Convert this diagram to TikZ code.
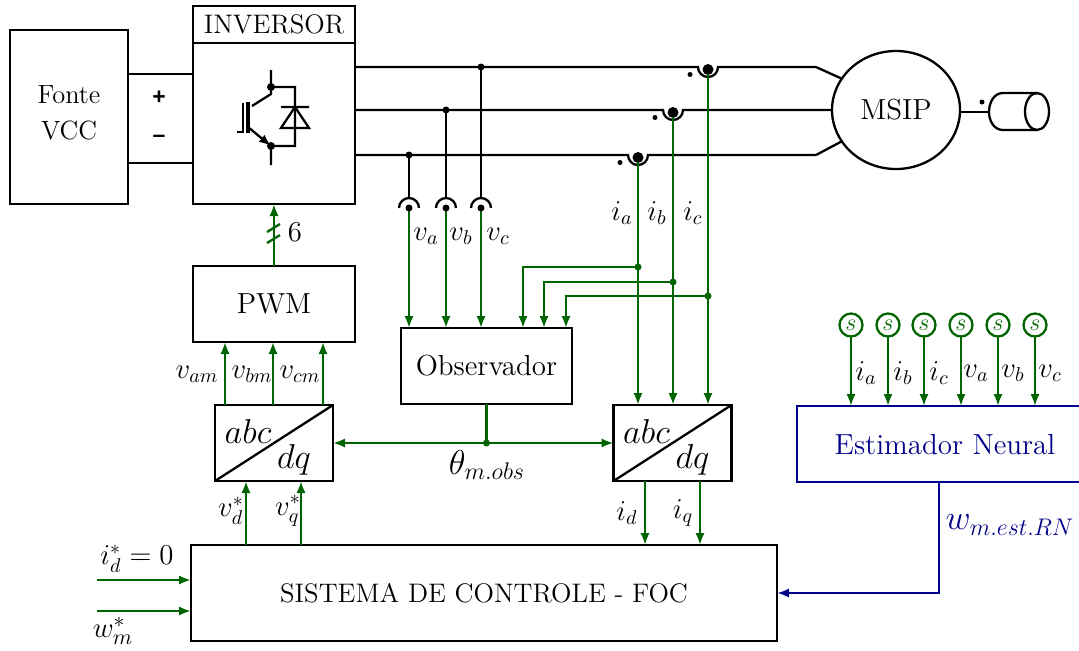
\documentclass[tikz,border=0pt]{standalone}
\usepackage{amssymb}
\usepackage{amsmath}
\usepackage[no-math]{fontspec}
\newfontfamily\signfont{Liberation Sans}
\usetikzlibrary{arrows.meta,shapes.geometric}
\definecolor{verde}{RGB}{0,100,0}
\definecolor{azul}{RGB}{0,0,139}
\tikzset{
blockbox/.style={draw,line width=1.15pt,inner sep=0pt,outer sep=0pt,align=center,font=\fontsize{14.5}{17}\selectfont},
sigline/.style={draw=verde,line width=1.15pt,-{Latex[length=6pt,width=4.6pt]}},
wire/.style={line width=1.15pt},
mathlabel/.style={inner sep=0pt,font=\fontsize{14.5}{17}\selectfont},
biglabel/.style={inner sep=0pt,font=\fontsize{17}{20}\selectfont},
signlabel/.style={inner sep=0pt,font=\signfont\bfseries\fontsize{11.5}{13}\selectfont},
}
\begin{document}
\begin{tikzpicture}[x=.5pt,y=-.5pt]
\useasboundingbox (0,0) rectangle (1079,650);

% blocos
\node[blockbox,minimum width=59pt,minimum height=87pt] (fonte) at (69,117) {};
\node[inner sep=0pt,align=center,font=\fontsize{13.2}{18}\selectfont] (fontetxt) at (69,113) {Fonte\\ VCC};
\node[blockbox,minimum width=81pt,minimum height=99pt] (inversor) at (274,105) {};
\node[blockbox,minimum width=81pt,minimum height=18.5pt,font=\fontsize{13.4}{16}\selectfont] (titulo) at (274,24.5) {INVERSOR};
\node[blockbox,minimum width=81pt,minimum height=38pt] (pwm) at (274,304) {PWM};
\node[blockbox,minimum width=85.5pt,minimum height=38pt] (obs) at (486.5,366) {Observador};
\node[blockbox,minimum width=59pt,minimum height=38pt] (tl) at (274,443) {};
\node[blockbox,minimum width=59pt,minimum height=38pt] (tr) at (672.5,443) {};
\node[blockbox,minimum width=293pt,minimum height=48pt,font=\fontsize{13.4}{16}\selectfont] (foc) at (484,593) {SISTEMA DE CONTROLE - FOC};
\node[blockbox,draw=none,minimum width=146pt,minimum height=38pt,text=azul] (rn) at (945,445) {Estimador Neural};
\draw[azul,line width=1.15pt] (1079,406)--(797,406)--(797,482)--(1079,482);
\node[blockbox,ellipse,minimum width=64pt,minimum height=59pt] (msip) at (896,110) {MSIP};

\foreach \b in {tl,tr}
{
\draw[wire] (\b.south west)--(\b.north east);
\node[biglabel,font=\fontsize{16.5}{18}\selectfont] at ([xshift=16.5pt,yshift=6pt]\b.west) {$abc$};
\node[biglabel,font=\fontsize{16.5}{18}\selectfont] at ([xshift=-19.5pt,yshift=-8.5pt]\b.east) {$dq$};
}

% fonte e inversor
\node[signlabel] (mais) at (159,98) {+};
\node[signlabel] (menos) at (159,139) {–};
\draw[wire] (fonte.east |- 0,74)--(inversor.west |- 0,74) (fonte.east |- 0,163)--(inversor.west |- 0,163);

% chave
\coordinate (c) at (271,87);
\coordinate (e) at (271,146);
\draw[wire] (271,70)--(c)--(271,94)--(252,106) (c)--(295,87)--(295,146)--(e)--(271,165);
\draw[wire] (281,107)--(309,107) (295,107)--(281,128)--(309,128)--cycle;
\draw[wire] (237,132)--(243,132)--(243,103);
\draw[line width=1.6pt] (248,102)--(248,133);
\draw[wire,-{Latex[length=6pt,width=4.6pt]}] (248,127)--(e);
\fill (c) circle (4) (e) circle (4);

% barramentos
\foreach \y/\x in {67/708,110/673,155/638}
{
\draw[wire] (inversor.east |- 0,\y)--(\x-10,\y) arc (180:0:10)--(816,\y);
\fill (\x,\y+2.5) circle (5.5);
\fill (\x-18,\y+7.5) circle (2.5);
}
\draw[wire] (816,67)--(msip.150) (816,110)--(msip.west) (816,155)--(msip.210);

% motor
\coordinate (eixo) at (989,112);
\draw[wire] (960,112)--(eixo);
\draw[wire] (1037,93)--(1003,93) to[out=180,in=90] (eixo) to[out=-90,in=180] (1003,130)--(1037,130);
\draw[wire] (1037,111.5) ellipse (12 and 18.5);
\fill (982,102) circle (2.5);

% tensoes
\foreach \x/\y/\l in {409/155/a,446/110/b,481/67/c}
{
\coordinate (t\l) at (\x,208);
\draw[wire] (\x,\y)--(\x,198);
\draw[wire] (\x-10,208) arc (180:360:10);
\draw[sigline] (t\l)--(\x,328);
\fill (t\l) circle (3.5);
\fill (\x,\y) circle (3.5);
}
\node[mathlabel] at (426,236) {$v_a$};
\node[mathlabel] at (461,236) {$v_b$};
\node[mathlabel] at (498,236) {$v_c$};

% correntes
\foreach \x/\y/\p/\z/\l in {638/267/523/162/a,673/282/544/117/b,708/296/566/74/c}
{
\coordinate (i\l) at (\x,\z);
\draw[sigline] (i\l)--(\x,405);
\draw[sigline] (\x,\y)--(\p,\y)--(\p,328);
\fill[verde] (\x,\y) circle (3.5);
}
\node[mathlabel] at (622,213) {$i_a$};
\node[mathlabel] at (657,213) {$i_b$};
\node[mathlabel] at (693,213) {$i_c$};

% pwm
\draw[sigline] (pwm.north)--(inversor.south);
\draw[verde,line width=1.15pt] (267,243)--(280,235) (267,232)--(280,224);
\node[mathlabel] at (295,232) {$6$};
\foreach \x in {225,273,323}
{
\draw[sigline] (\x,405)--(\x,342);
}
\node[mathlabel] at (197,374) {$v_{am}$};
\node[mathlabel] at (252,374) {$v_{bm}$};
\node[mathlabel] at (300,374) {$v_{cm}$};

% observador
\draw[sigline,{Latex[length=6pt,width=4.6pt]}-{Latex[length=6pt,width=4.6pt]}] (tl.east)--(tr.west);
\draw[draw=verde,line width=1.15pt] (obs.south)--(obs.south |- tl.east);
\fill[verde] (obs.south |- tl.east) circle (3.5);
\node[biglabel] at (487,465) {$\theta_{m.obs}$};

% controle
\foreach \x in {246,301}
{
\draw[sigline] (\x,545)--(\x,481);
}
\node[mathlabel] at (231,511) {$v_d^*$};
\node[mathlabel] at (288,511) {$v_q^*$};
\foreach \x in {645,700}
{
\draw[sigline] (\x,481)--(\x,545);
}
\node[mathlabel] at (627,513) {$i_d$};
\node[mathlabel] at (683,513) {$i_q$};
\coordinate (idref) at (97,580);
\coordinate (wref) at (97,611);
\draw[sigline] (idref)--(idref -| foc.west);
\draw[sigline] (wref)--(wref -| foc.west);
\node[mathlabel] at (137,559) {$i_d^*=0$};
\node[mathlabel,font=\fontsize{15.5}{17}\selectfont] at (113,631) {$w_m^*$};

% estimador
\foreach \x/\t [count=\i] in {851/i_a,888/i_b,924/i_c,961/v_a,998/v_b,1035/v_c}
{
\node[circle,draw=verde,line width=1.15pt,inner sep=0pt,outer sep=0pt,minimum size=11.5pt,text=verde,font=\fontsize{12}{12}\selectfont] (s\i) at (\x,325) {$s$};
\draw[sigline] (s\i)--(\x,406);
\node[mathlabel] at (\x+15,373) {$\t$};
}
\draw[draw=azul,line width=1.15pt,-{Latex[length=6pt,width=4.6pt]}] (939,482)--(939,593)--(foc.east |- 0,593);
\node[biglabel,text=azul] at (1010,525) {$w_{m.est.RN}$};
\end{tikzpicture}
\end{document}
